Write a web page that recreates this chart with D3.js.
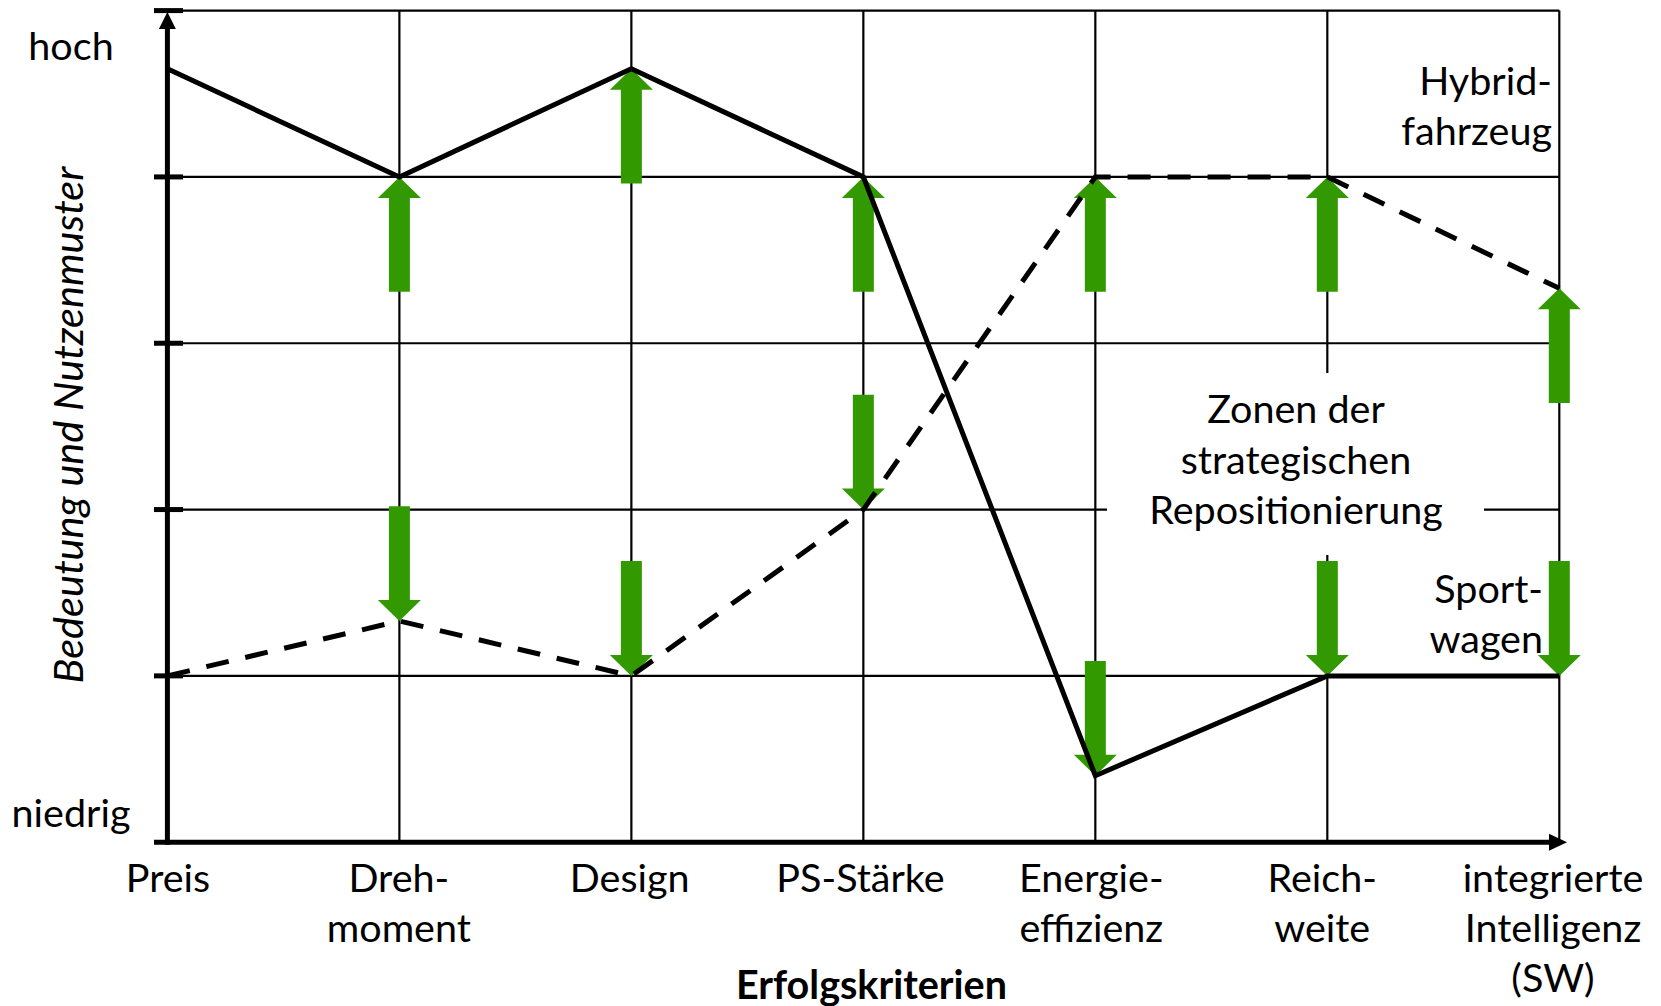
<!DOCTYPE html>
<html><head><meta charset="utf-8">
<script src="https://cdn.jsdelivr.net/npm/d3@7"></script>
<style>
body{margin:0;background:#fff}
svg{display:block}
text{font-family:Lato, "Open Sans", sans-serif; fill:#000}
</style>
</head><body>
<svg id="c" width="1661" height="1006"></svg>
<script>
// ---- data ----
const categories = ["Preis","Drehmoment","Design","PS-Stärke","Energieeffizienz","Reichweite","integrierte Intelligenz (SW)"];
const categoryLabels = [["Preis"],["Dreh-","moment"],["Design"],["PS-Stärke"],["Energie-","effizienz"],["Reich-","weite"],["integrierte","Intelligenz","(SW)"]];
const sportwagen = [4.65, 4, 4.65, 4, 0.4, 1, 1];
const hybridfahrzeug = [1, 1.33, 1, 2, 4, 4, 3.33];
const yLevels = [0, 1, 2, 3, 4, 5];
const yEndLabels = ["niedrig", "hoch"];
const seriesNames = [["Sport-","wagen"], ["Hybrid-","fahrzeug"]];
const zoneLabel = ["Zonen der", "strategischen", "Repositionierung"];
const xTitle = "Erfolgskriterien";
const yTitle = "Bedeutung und Nutzenmuster";
const arrowCategories = categories.slice(1);

// ---- layout ----
const svg = d3.select("#c");
const x = d3.scalePoint().domain(categories).range([167.4, 1559.3]);
const xLab = d3.scalePoint().domain(categories).range([168, 1553]);
const y = d3.scaleLinear().domain([0, 5]).range([842.2, 10.6]);
const GREEN = "#339900";
const FS = 39.5;
const arrowLen = 0.69;

// grid
const g = svg.append("g");
g.selectAll("line.h").data(yLevels.filter(v => v > 0 && v < 5)).enter().append("line")
  .attr("x1", x(categories[0])).attr("x2", x(categories[6]))
  .attr("y1", d => y(d)).attr("y2", d => y(d))
  .attr("stroke", "#000").attr("stroke-width", 2.2);
g.append("line").attr("x1", 154).attr("x2", x(categories[6]))
  .attr("y1", y(5)).attr("y2", y(5)).attr("stroke", "#000").attr("stroke-width", 2.2);
g.selectAll("line.v").data(categories.slice(1)).enter().append("line")
  .attr("x1", d => x(d)).attr("x2", d => x(d))
  .attr("y1", y(0)).attr("y2", y(5))
  .attr("stroke", "#000").attr("stroke-width", 2.2);

// white zone behind label
svg.append("rect").attr("x", 1107).attr("y", 373).attr("width", 377).attr("height", 182).attr("fill", "#fff");

// ticks
svg.selectAll("line.tk").data(yLevels.filter(v => v > 0)).enter().append("line")
  .attr("x1", 154).attr("x2", 183).attr("y1", d => y(d)).attr("y2", d => y(d))
  .attr("stroke", "#000").attr("stroke-width", 5);

// axes
svg.append("line").attr("x1", x(categories[0])).attr("x2", x(categories[0]))
  .attr("y1", y(0) + 2.5).attr("y2", 26).attr("stroke", "#000").attr("stroke-width", 5);
svg.append("path").attr("d", `M${x(categories[0])},12 L${x(categories[0]) + 8.5},29 L${x(categories[0]) - 8.5},29 Z`).attr("fill", "#000");
svg.append("line").attr("x1", 154).attr("x2", 1550).attr("y1", y(0)).attr("y2", y(0))
  .attr("stroke", "#000").attr("stroke-width", 5);
svg.append("path").attr("d", `M1567,${y(0)} L1549,${y(0) - 8.5} L1549,${y(0) + 8.5} Z`).attr("fill", "#000");

// arrows
function arrowPath(cx, tipY, tailY) {
  const dir = tailY > tipY ? 1 : -1;
  const hb = tipY + dir * 21;
  return `M${cx},${tipY} L${cx + 21.5},${hb} L${cx + 10.5},${hb} L${cx + 10.5},${tailY} L${cx - 10.5},${tailY} L${cx - 10.5},${hb} L${cx - 21.5},${hb} Z`;
}
const arrows = [];
arrowCategories.forEach(c => {
  const i = categories.indexOf(c);
  const hi = Math.max(sportwagen[i], hybridfahrzeug[i]);
  const lo = Math.min(sportwagen[i], hybridfahrzeug[i]);
  arrows.push({c, tip: hi, tail: hi - arrowLen});
  arrows.push({c, tip: lo, tail: lo + arrowLen});
});

// texts
const t = svg.append("g").style("font-size", FS + "px");
t.append("text").attr("x", 71).attr("y", 60).attr("text-anchor", "middle").text(yEndLabels[1]);
t.append("text").attr("x", 71).attr("y", 827).attr("text-anchor", "middle").text(yEndLabels[0]);
seriesNames[1].forEach((s, k) => t.append("text").attr("x", 1552).attr("y", 95 + k * 50).attr("text-anchor", "end").text(s));
seriesNames[0].forEach((s, k) => t.append("text").attr("x", 1543).attr("y", 603 + k * 50).attr("text-anchor", "end").text(s));
zoneLabel.forEach((s, k) => t.append("text").attr("x", 1296).attr("y", 423 + k * 50.5).attr("text-anchor", "middle").text(s));
categories.forEach((c, i) => {
  categoryLabels[i].forEach((s, k) => t.append("text").attr("x", xLab(c)).attr("y", 892 + k * 50).attr("text-anchor", "middle").text(s));
});
t.append("text").attr("x", 871.5).attr("y", 999).attr("text-anchor", "middle").style("font-weight", "bold").text(xTitle);
t.append("text").attr("transform", "translate(83,425) rotate(-90)").attr("text-anchor", "middle")
  .style("font-style", "italic").style("font-size", "41.5px").text(yTitle);

svg.selectAll("path.arrow").data(arrows).enter().append("path").attr("class", "arrow")
  .attr("d", d => arrowPath(x(d.c), y(d.tip), y(d.tail))).attr("fill", GREEN);

// lines
const line = d3.line().x((d, i) => x(categories[i])).y(d => y(d));
svg.append("path").datum(sportwagen).attr("d", line).attr("fill", "none")
  .attr("stroke", "#000").attr("stroke-width", 5).attr("stroke-linejoin", "miter");
svg.append("path").datum(hybridfahrzeug).attr("d", line).attr("fill", "none")
  .attr("stroke", "#000").attr("stroke-width", 5).attr("stroke-dasharray", "23,17");
</script>
</body></html>
